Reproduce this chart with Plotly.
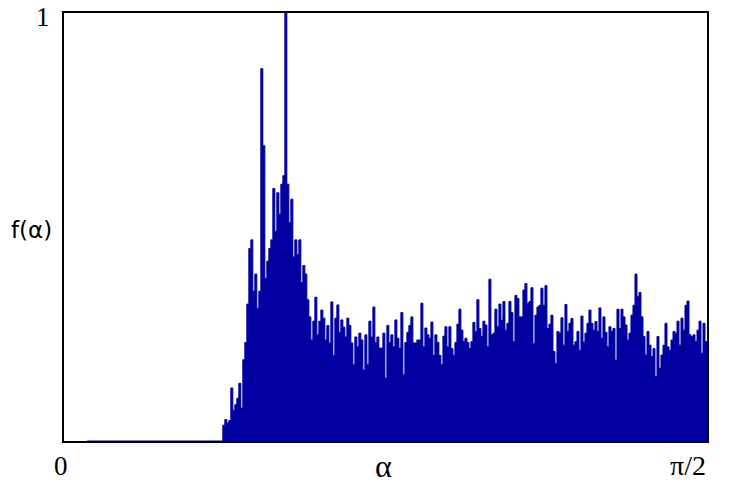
import numpy as np
import plotly.graph_objects as go

# alpha range (radians)
alpha_start = 0.056      # where the curve begins (zero level)
alpha_rise = 0.388       # where non-zero values begin
alpha_end = np.pi / 2

# f(alpha) values, normalised to max = 1 (uniform bins from alpha_rise to pi/2)
vals_a = [0.037, 0.05, 0.042, 0.048, 0.124, 0.072, 0.085, 0.10, 0.135, 0.077,
          0.19, 0.23, 0.32, 0.45, 0.47, 0.35, 0.39, 0.31, 0.35, 0.87,
          0.69, 0.38, 0.42, 0.45, 0.47, 0.59, 0.49, 0.58, 0.53, 0.60,
          0.62, 1.0, 0.60, 0.51, 0.565, 0.43, 0.47, 0.435, 0.47, 0.37,
          0.41, 0.39, 0.33, 0.29, 0.236, 0.28]
vals_b = [0.336, 0.248, 0.28, 0.306, 0.287, 0.236, 0.27, 0.229, 0.325, 0.20,
          0.287, 0.318, 0.254, 0.283, 0.266, 0.243, 0.287, 0.27, 0.229, 0.178,
          0.243, 0.22, 0.252, 0.236, 0.166, 0.248, 0.178, 0.28, 0.243, 0.313,
          0.23, 0.243, 0.217, 0.217, 0.252, 0.147, 0.27, 0.23, 0.248, 0.22,
          0.283, 0.24, 0.217, 0.30, 0.155, 0.23, 0.254, 0.27, 0.29, 0.229,
          0.229, 0.236, 0.236, 0.322, 0.22, 0.264, 0.248, 0.24, 0.278, 0.20,
          0.248, 0.23, 0.20, 0.178, 0.245]
vals_c = [0.267, 0.22, 0.267, 0.216, 0.2, 0.23, 0.273, 0.308, 0.259, 0.232,
          0.24, 0.23, 0.216, 0.232, 0.277, 0.255, 0.33, 0.263, 0.244, 0.28,
          0.271, 0.22, 0.378, 0.248, 0.252, 0.308, 0.267, 0.32, 0.282, 0.326,
          0.259, 0.275, 0.326, 0.30, 0.232, 0.34, 0.333, 0.29, 0.29, 0.353,
          0.368, 0.321, 0.326, 0.358, 0.228, 0.294, 0.313, 0.317, 0.357, 0.317,
          0.363, 0.263, 0.273, 0.294, 0.209, 0.181, 0.256, 0.252, 0.288, 0.224,
          0.319, 0.256, 0.275, 0.286, 0.224]
vals_d = [0.232, 0.256, 0.212, 0.292, 0.231, 0.252, 0.275, 0.306, 0.275, 0.259,
          0.279, 0.256, 0.311, 0.24, 0.29, 0.254, 0.22, 0.267, 0.256, 0.263,
          0.189, 0.308, 0.263, 0.308, 0.29, 0.271, 0.236, 0.252, 0.294, 0.317,
          0.39, 0.337, 0.347, 0.29, 0.244, 0.201, 0.256, 0.224, 0.197, 0.216,
          0.15, 0.244, 0.17, 0.201, 0.224, 0.275, 0.22, 0.212, 0.236, 0.256,
          0.252, 0.28, 0.224, 0.287, 0.259, 0.317, 0.327, 0.248, 0.244, 0.248,
          0.232, 0.259, 0.28, 0.205, 0.275, 0.232]

values = vals_a + vals_b + vals_c + vals_d
edges = np.linspace(alpha_rise, alpha_end, len(values) + 1)

xs = [alpha_start] + list(edges)
ys = [0.0] + values + [values[-1]]

BLUE = "#0000A0"

fig = go.Figure()
fig.add_trace(go.Scatter(
    x=xs, y=ys, mode="lines", line=dict(shape="hv", color=BLUE, width=1),
    fill="tozeroy", fillcolor=BLUE, hoverinfo="skip", showlegend=False,
))

axis_common = dict(showline=True, mirror=True, linecolor="black", linewidth=2,
                   showgrid=False, zeroline=False, ticks="", showticklabels=False,
                   layer="below traces")
fig.update_xaxes(range=[0, np.pi / 2], **axis_common)
fig.update_yaxes(range=[0, 1], **axis_common)

serif = "Liberation Serif, Times New Roman, serif"
ann = [
    dict(text="1", x=-0.032, y=0.99, font=dict(family=serif, size=27, color="black")),
    dict(text="0", x=-0.005, y=-0.058, font=dict(family=serif, size=27, color="black")),
    dict(text="α", x=0.497, y=-0.058, font=dict(family=serif, size=32, color="black")),
    dict(text="π/2", x=0.970, y=-0.058, font=dict(family=serif, size=28, color="black")),
    dict(text="f(α)", x=-0.05, y=0.493,
         font=dict(family="DejaVu Sans, sans-serif", size=23, color="black")),
]
for a in ann:
    fig.add_annotation(xref="paper", yref="paper", showarrow=False,
                       xanchor="center", yanchor="middle", **a)

fig.update_layout(
    width=739, height=488,
    margin=dict(l=64, r=32, t=13, b=47),
    paper_bgcolor="white", plot_bgcolor="white",
    font=dict(color="black"),
)

fig.write_html("out.html", config={"displayModeBar": False})

# remove the default page margin so the figure sits at the window origin
with open("out.html", "r", encoding="utf-8") as f:
    html = f.read()
html = html.replace("<body>", '<body style="margin:0;padding:0;overflow:hidden">', 1)
with open("out.html", "w", encoding="utf-8") as f:
    f.write(html)
